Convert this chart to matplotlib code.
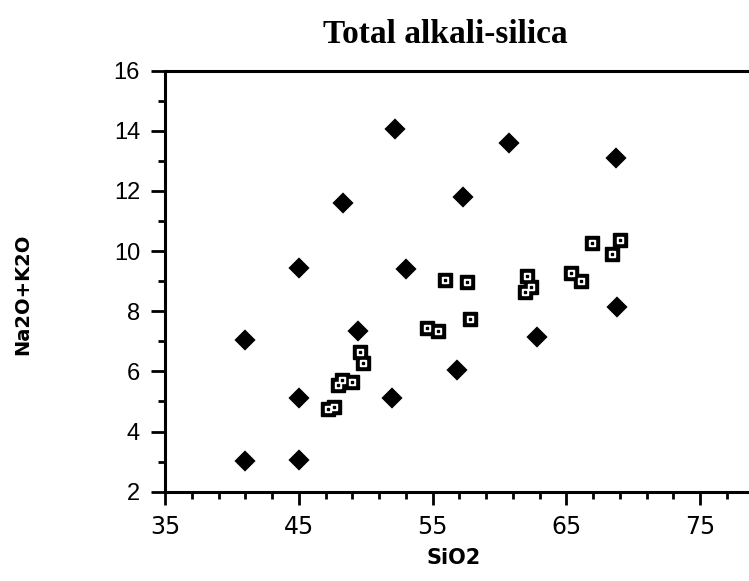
import matplotlib
matplotlib.use('Agg')
import matplotlib.pyplot as plt
import numpy as np

# diamonds (filled)
dia_x = [41.0, 41.0, 45.0, 45.0, 45.0, 48.3, 49.4, 52.0, 52.2, 53.0,
         56.8, 57.3, 60.7, 62.8, 68.7, 68.8]
dia_y = [7.03, 3.02, 9.43, 5.10, 3.04, 11.6, 7.34, 5.12, 14.06, 9.40,
         6.05, 11.8, 13.6, 7.14, 13.1, 8.14]

# squares (dotted box)
sq_x = [47.2, 47.6, 47.9, 48.2, 49.0, 49.55, 49.8, 54.55, 55.4, 55.9,
        57.6, 57.8, 61.9, 62.1, 62.35, 65.35, 66.1, 66.9, 68.4, 69.0]
sq_y = [4.74, 4.83, 5.55, 5.72, 5.65, 6.63, 6.27, 7.45, 7.36, 9.05,
        8.96, 7.74, 8.65, 9.18, 8.82, 9.26, 9.02, 10.26, 9.90, 10.37]

xticks = [35, 45, 55, 65, 75]
yticks = [2, 4, 6, 8, 10, 12, 14, 16]

fig = plt.figure(figsize=(7.49, 5.81), dpi=100)
ax = fig.add_axes([0.2203, 0.1537, 0.7797, 0.7246])

ax.plot(dia_x, dia_y, 'D', color='black', markersize=9, markeredgewidth=1.6,
        markeredgecolor='black', linestyle='none')
ax.plot(sq_x, sq_y, 's', color='black', markersize=9.5, linestyle='none')
ax.plot(sq_x, sq_y, 's', color='white', markersize=4.6, linestyle='none')
ax.plot(sq_x, sq_y, 's', color='black', markersize=1.5, linestyle='none')

ax.set_xlim(35, 78.66)
ax.set_ylim(2, 16)
ax.set_xticks(xticks)
ax.set_xticks(np.arange(37, 79, 2), minor=True)
ax.set_yticks(yticks)
ax.set_yticks(np.arange(3, 16, 2), minor=True)

for s in ['left', 'bottom', 'top']:
    ax.spines[s].set_linewidth(2.2)
ax.spines['right'].set_visible(False)

ax.tick_params(axis='y', which='major', direction='out', length=10, width=2, pad=8)
ax.tick_params(axis='x', which='major', direction='out', length=9, width=2, pad=8)
ax.tick_params(which='minor', direction='out', length=5, width=2)
ax.tick_params(top=False, right=False)

for lab in ax.get_xticklabels():
    lab.set_fontfamily('DejaVu Sans')
    lab.set_fontsize(17)
for lab in ax.get_yticklabels():
    lab.set_fontfamily('Liberation Sans')
    lab.set_fontsize(17)

fig.text(0.6055, 0.040, 'SiO2', ha='center', va='center',
         fontfamily='DejaVu Sans', fontweight='bold', fontsize=15)
fig.text(0.031, 0.494, 'Na2O+K2O', rotation=90, ha='center', va='center',
         fontfamily='DejaVu Sans', fontweight='bold', fontsize=14)
fig.text(0.595, 0.941, 'Total alkali-silica', ha='center', va='center',
         fontfamily='Liberation Serif', fontweight='bold', fontsize=24)

fig.savefig('out.png', dpi=100)
